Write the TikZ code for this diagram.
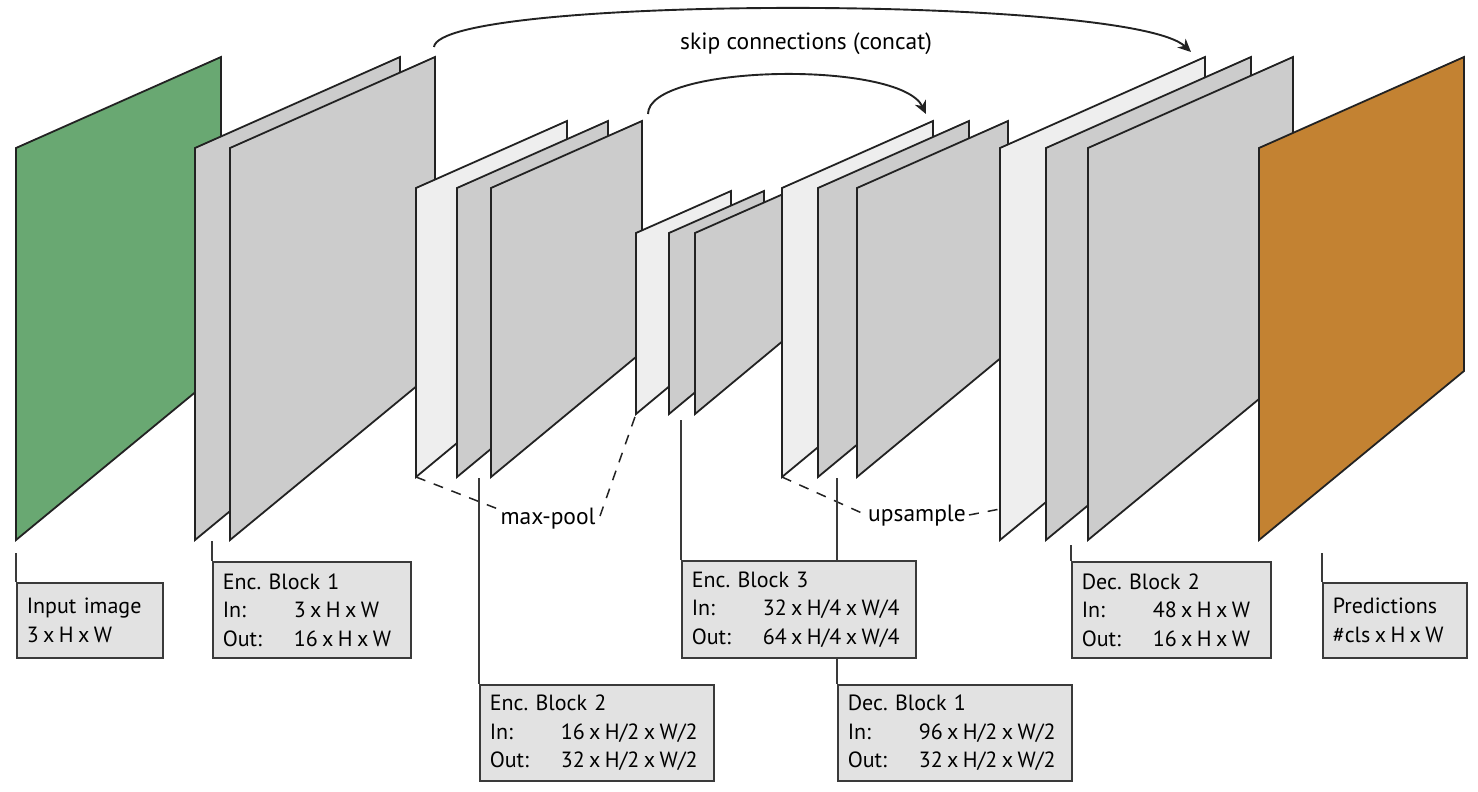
\documentclass[tikz,border=0pt]{standalone}
\usepackage{fontspec}
\setmainfont{PT Sans}
\frenchspacing
\usetikzlibrary{arrows.meta}
\definecolor{cgreen}{HTML}{69A872}
\definecolor{corange}{HTML}{C38232}
\definecolor{cgray}{HTML}{CCCCCC}
\definecolor{clight}{HTML}{EEEEEE}
\definecolor{cbox}{HTML}{E2E2E2}
\definecolor{cline}{HTML}{222222}
\definecolor{cboxline}{HTML}{3A3A3A}
\newcommand\bigpl[3]{\filldraw[plane,fill=#3] (#2,148) coordinate (#1-tl) -- ++(205,-91) coordinate (#1-tr) -- ++(0,314) coordinate (#1-br) -- (#2,540) coordinate (#1-bl) -- cycle;}
\newcommand\medpl[3]{\filldraw[plane,fill=#3] (#2,188) coordinate (#1-tl) -- ++(151,-67) coordinate (#1-tr) -- ++(0,231) coordinate (#1-br) -- (#2,477) coordinate (#1-bl) -- cycle;}
\newcommand\smpl[3]{\filldraw[plane,fill=#3] (#2,233) coordinate (#1-tl) -- ++(95,-42) coordinate (#1-tr) -- ++(0,144) coordinate (#1-br) -- (#2,414) coordinate (#1-bl) -- cycle;}
\newcommand\lbl[1]{\makebox[71pt][l]{#1}}
\newcommand\X{\hspace{0.2em}x\hspace{0.2em}}
\newcommand\boxfont{\fontsize{22}{28.5}\selectfont}
\newcommand\labfont{\fontsize{23.5}{26}\selectfont}
\begin{document}
\begin{tikzpicture}[x=1pt,y=-1pt,
  plane/.style={draw=cline,line width=1.8pt,line join=miter},
  infobox/.style={draw=cboxline,fill=cbox,line width=1.6pt,anchor=north west,
    inner xsep=10pt,inner ysep=0pt,align=left,font=\boxfont},
  leader/.style={draw=cboxline,line width=1.5pt},
  dashline/.style={draw=cline,line width=1.5pt,dash pattern=on 10pt off 9pt},
  skiparrow/.style={draw=cline,line width=1.9pt,-{Stealth[length=13pt,width=12pt,inset=4pt]}},
  plainlabel/.style={inner sep=0pt,anchor=base,font=\labfont}]
\useasboundingbox (0,0) rectangle (1478,792);
% planes
\bigpl{inp}{16}{cgreen}
\bigpl{ea}{195}{cgray}
\bigpl{eb}{230}{cgray}
\medpl{fa}{416}{clight}
\medpl{fb}{457}{cgray}
\medpl{fc}{491}{cgray}
\smpl{ga}{636}{clight}
\smpl{gb}{669}{cgray}
\smpl{gc}{695}{cgray}
\medpl{da}{782}{clight}
\medpl{db}{818}{cgray}
\medpl{dc}{857}{cgray}
\bigpl{ha}{1000}{clight}
\bigpl{hb}{1046}{cgray}
\bigpl{hc}{1088}{cgray}
\bigpl{pr}{1259}{corange}
% skip connections
\coordinate (s1a) at (434,47);
\coordinate (s1b) at (1191,52);
\coordinate (s2a) at (648,114);
\coordinate (s2b) at (926,114);
\draw[skiparrow] (s1a) .. controls (440,-5) and (1130,-5) .. (s1b);
\draw[skiparrow] (s2a) .. controls (648,64) and (900,60) .. (s2b);
\node[plainlabel] (skiplbl) at (806,50) {skip connections (concat)};
% max-pool / upsample
\node[plainlabel] (mp) at (548,524) {max-pool};
\node[plainlabel] (us) at (917,521) {upsample};
\coordinate (mpl) at (498,509);
\coordinate (mpr) at (600,516);
\coordinate (usl) at (864,514);
\coordinate (usr) at (969,515);
\coordinate (usend) at (1000,509);
\draw[dashline] (fa-bl) -- (mpl);
\draw[dashline] (mpr) -- (ga-bl);
\draw[dashline] (da-bl) -- (usl);
\draw[dashline] (usr) -- (usend);
% leader lines
\coordinate (l1) at (16,553);
\coordinate (l2) at (212,541);
\coordinate (l3) at (479,478);
\coordinate (l4) at (681,420);
\coordinate (l5) at (837,478);
\coordinate (l6) at (1071,545);
\coordinate (l7) at (1322,553);
\path[leader] (l1) -- (16,582);
\path[leader] (l2) -- (212,561);
\path[leader] (l3) -- (479,684);
\path[leader] (l4) -- (681,560);
\path[leader] (l5) -- (837,684);
\path[leader] (l6) -- (1071,561);
\path[leader] (l7) -- (1322,582);
% boxes
\node[infobox,text width=126pt,minimum height=75pt] (bin) at (16,582) {\mbox{Input image}\\\mbox{3\X H\X W}};
\node[infobox,text width=178pt,minimum height=96pt] (be1) at (212,561) {\mbox{Enc. Block 1}\\\mbox{\lbl{In:}3\X H\X W}\\\mbox{\lbl{Out:}16\X H\X W}};
\node[infobox,text width=214pt,minimum height=96pt] (be2) at (479,684) {\mbox{Enc. Block 2}\\\mbox{\lbl{In:}16\X H/2\X W/2}\\\mbox{\lbl{Out:}32\X H/2\X W/2}};
\node[infobox,text width=214pt,minimum height=97pt] (be3) at (681,560) {\mbox{Enc. Block 3}\\\mbox{\lbl{In:}32\X H/4\X W/4}\\\mbox{\lbl{Out:}64\X H/4\X W/4}};
\node[infobox,text width=214pt,minimum height=96pt] (bd1) at (837,684) {\mbox{Dec. Block 1}\\\mbox{\lbl{In:}96\X H/2\X W/2}\\\mbox{\lbl{Out:}32\X H/2\X W/2}};
\node[infobox,text width=179pt,minimum height=96pt] (bd2) at (1071,561) {\mbox{Dec. Block 2}\\\mbox{\lbl{In:}48\X H\X W}\\\mbox{\lbl{Out:}16\X H\X W}};
\node[infobox,text width=124pt,minimum height=75pt] (bpr) at (1322,582) {\mbox{Predictions}\\\mbox{\#cls\X H\X W}};
\end{tikzpicture}
\end{document}
